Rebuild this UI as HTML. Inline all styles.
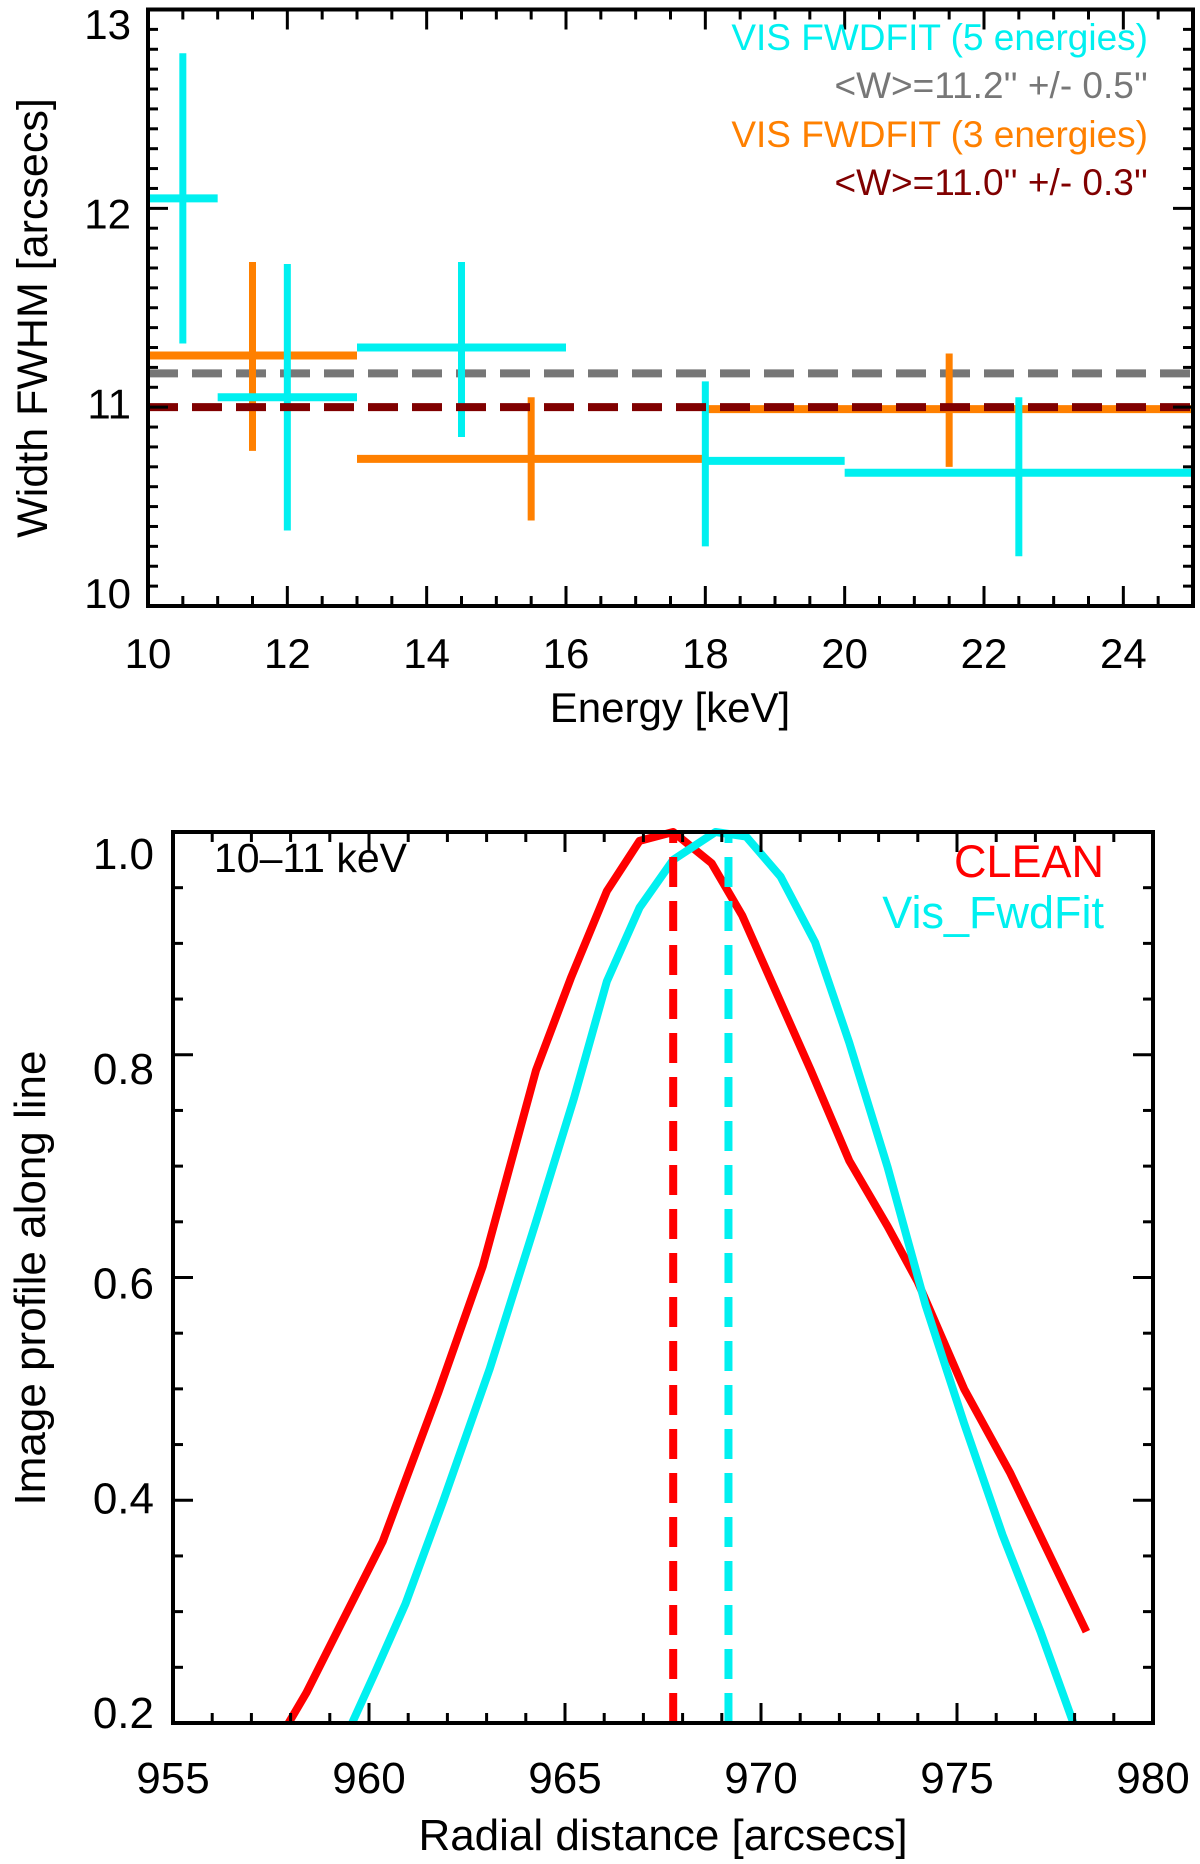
<!DOCTYPE html>
<html><head><meta charset="utf-8"><style>
html,body{margin:0;padding:0;background:#fff;}
svg{display:block;}
text{font-family:"Liberation Sans",sans-serif;}
</style></head><body>
<svg id="fig" width="1200" height="1864" viewBox="0 0 1200 1864" xmlns="http://www.w3.org/2000/svg">
<g id="top"></g>
<g id="bot"></g>
</svg>
<script>
// ---- Top chart data ----
const cyanXlo = [10, 11, 13, 18, 20];
const cyanXhi = [11, 13, 16, 20, 25];
const cyanXbar = [10.5, 12, 14.5, 18, 22.5];
const cyanY = [12.05, 11.05, 11.3, 10.73, 10.67];
const cyanYlo = [11.32, 10.38, 10.85, 10.3, 10.25];
const cyanYhi = [12.78, 11.72, 11.73, 11.13, 11.05];
const orangeXlo = [10, 13, 18];
const orangeXhi = [13, 18, 25];
const orangeXbar = [11.5, 15.5, 21.5];
const orangeY = [11.26, 10.74, 10.99];
const orangeYlo = [10.78, 10.43, 10.7];
const orangeYhi = [11.73, 11.05, 11.27];
const meanGray = 11.17;
const meanRed = 11.0;
const topXTicks = [10, 12, 14, 16, 18, 20, 22, 24];
const topYTicks = [10, 11, 12, 13];
// ---- Bottom chart data ----
const cleanX = [957.95,958.4,959.3,960.35,961.77,962.9,964.26,965.15,966.07,966.9,967.76,968.74,969.52,970.1,971.27,972.25,973.23,974.0,975.18,976.35,978.3];
const cleanY = [0.2,0.227,0.29,0.363,0.497,0.61,0.786,0.869,0.947,0.992,1.0,0.972,0.925,0.879,0.786,0.705,0.646,0.596,0.5,0.425,0.282];
const fwdX = [959.57,960.15,960.93,961.9,963.08,964.25,965.23,966.07,966.9,967.76,968.84,969.62,970.5,971.38,972.25,973.23,974.2,975.18,976.16,977.13,977.97];
const fwdY = [0.2,0.245,0.307,0.4,0.518,0.649,0.761,0.866,0.932,0.975,1.0,0.996,0.96,0.901,0.811,0.699,0.575,0.469,0.369,0.282,0.2];
const cleanPeak = 967.76;
const fwdPeak = 969.17;
const botXTicks = [955, 960, 965, 970, 975, 980];
const botYTicks = [0.2, 0.4, 0.6, 0.8, 1.0];
const botYLabels = ["0.2","0.4","0.6","0.8","1.0"];

const NS = "http://www.w3.org/2000/svg";
function mk(parent, tag, attrs, txt) {
  const e = document.createElementNS(NS, tag);
  for (const k in attrs) e.setAttribute(k, attrs[k]);
  if (txt !== undefined) e.textContent = txt;
  parent.appendChild(e);
  return e;
}
function scale(d0, d1, p0, p1) { return v => p0 + (v - d0) * (p1 - p0) / (d1 - d0); }

function axes(g, L, R, T, B, sx, sy, xr, yr, xMinor, yMinor, xMajor, yMajor) {
  let e;
  for (let v = xr[0]; v <= xr[1] + 1e-9; v += xMinor) {
    const isMaj = xMajor.some(m => Math.abs(m - v) < 1e-6);
    const len = isMaj ? 20 : 10;
    const x = sx(v);
    e = mk(g, "line", {x1:x, y1:B, x2:x, y2:B-len, stroke:"#000", "stroke-width":3});
    
    
    e = mk(g, "line", {x1:x, y1:T, x2:x, y2:T+len, stroke:"#000", "stroke-width":3});
    
    
  }
  for (let v = yr[0]; v <= yr[1] + 1e-9; v += yMinor) {
    const isMaj = yMajor.some(m => Math.abs(m - v) < 1e-6);
    const len = isMaj ? 20 : 10;
    const y = sy(v);
    e = mk(g, "line", {x1:L, y1:y, x2:L+len, y2:y, stroke:"#000", "stroke-width":3});
    
    
    e = mk(g, "line", {x1:R, y1:y, x2:R-len, y2:y, stroke:"#000", "stroke-width":3});
    
    
  }
  e = mk(g, "rect", {x:L, y:T, width:R-L, height:B-T, fill:"none", stroke:"#000", "stroke-width":4});
  
  
}

// ---------- TOP CHART ----------
(function(){
  const g = document.getElementById("top");
  const L=148, R=1193, T=9.5, B=606;
  const sx = scale(10, 25, L, R), sy = scale(10, 13, B, T);
  const sLab = scale(10, 13, 593, 24);
  let e;
  e = mk(g, "line", {x1:L, y1:sy(meanGray), x2:R, y2:sy(meanGray), stroke:"#777", "stroke-width":8, "stroke-dasharray":"30 14"});
  
  
  for (let i=0;i<orangeY.length;i++){
    e = mk(g, "line", {x1:sx(orangeXlo[i]), y1:sy(orangeY[i]), x2:sx(orangeXhi[i]), y2:sy(orangeY[i]), stroke:"#ff8000", "stroke-width":8});
    
    
    e = mk(g, "line", {x1:sx(orangeXbar[i]), y1:sy(orangeYlo[i]), x2:sx(orangeXbar[i]), y2:sy(orangeYhi[i]), stroke:"#ff8000", "stroke-width":7});
    
    
  }
  for (let i=0;i<cyanY.length;i++){
    e = mk(g, "line", {x1:sx(cyanXlo[i]), y1:sy(cyanY[i]), x2:sx(cyanXhi[i]), y2:sy(cyanY[i]), stroke:"#00f0f0", "stroke-width":8});
    
    
    e = mk(g, "line", {x1:sx(cyanXbar[i]), y1:sy(cyanYlo[i]), x2:sx(cyanXbar[i]), y2:sy(cyanYhi[i]), stroke:"#00f0f0", "stroke-width":7});
    
    
  }
  e = mk(g, "line", {x1:L, y1:sy(meanRed), x2:R, y2:sy(meanRed), stroke:"#800000", "stroke-width":8, "stroke-dasharray":"30 14"});
  
  
  axes(g, L, R, T, B, sx, sy, [10,25], [10,13], 0.5, 0.1, topXTicks, topYTicks);
  for (const v of topXTicks){
    e = mk(g, "text", {x:sx(v), y:668, "font-size":42, "text-anchor":"middle"}, String(v));
    
    
  }
  for (const v of topYTicks){
    e = mk(g, "text", {x:131, y:sLab(v)+15, "font-size":42, "text-anchor":"end"}, String(v));
    
    
  }
  e = mk(g, "text", {x:670, y:722, "font-size":42, "text-anchor":"middle"}, "Energy [keV]");
  
  
  e = mk(g, "text", {x:0, y:0, "font-size":43, "text-anchor":"middle", transform:"translate(47,318) rotate(-90)"}, "Width FWHM [arcsecs]");
  
  
  const leg = [["VIS FWDFIT (5 energies)","#00f0f0",50],["<W>=11.2'' +/- 0.5''","#777",98],["VIS FWDFIT (3 energies)","#ff8000",147],["<W>=11.0'' +/- 0.3''","#800000",195]];
  for (const l of leg){
    e = mk(g, "text", {x:1148, y:l[2], "font-size":37, "text-anchor":"end", fill:l[1]}, l[0]);
    
    
  }
})();

// ---------- BOTTOM CHART ----------
(function(){
  const g = document.getElementById("bot");
  const L=173, R=1153, T=832, B=1723;
  const sx = scale(955, 980, L, R), sy = scale(0.2, 1.0, B, T);
  const sLab = scale(0.2, 1.0, 1712, 853);
  let e;
  let d = cleanX.map((x,i)=>(i?"L":"M")+sx(x).toFixed(1)+","+sy(cleanY[i]).toFixed(1)).join("");
  e = mk(g, "path", {d:d, fill:"none", stroke:"#ff0000", "stroke-width":8, "stroke-linejoin":"round"});
  
  
  d = fwdX.map((x,i)=>(i?"L":"M")+sx(x).toFixed(1)+","+sy(fwdY[i]).toFixed(1)).join("");
  e = mk(g, "path", {d:d, fill:"none", stroke:"#00f0f0", "stroke-width":8, "stroke-linejoin":"round"});
  
  
  e = mk(g, "line", {x1:sx(cleanPeak), y1:B, x2:sx(cleanPeak), y2:T, stroke:"#ff0000", "stroke-width":8, "stroke-dasharray":"30 14"});
  
  
  e = mk(g, "line", {x1:sx(fwdPeak), y1:B, x2:sx(fwdPeak), y2:T, stroke:"#00f0f0", "stroke-width":8, "stroke-dasharray":"30 14"});
  
  
  axes(g, L, R, T, B, sx, sy, [955,980], [0.2,1.0], 1, 0.05, botXTicks, botYTicks);
  for (const v of botXTicks){
    e = mk(g, "text", {x:sx(v), y:1793, "font-size":44, "text-anchor":"middle"}, String(v));
    
    
  }
  botYTicks.forEach((v,i)=>{
    e = mk(g, "text", {x:154, y:sLab(v)+16, "font-size":44, "text-anchor":"end"}, botYLabels[i]);
    
    
  });
  e = mk(g, "text", {x:663, y:1850, "font-size":44, "text-anchor":"middle"}, "Radial distance [arcsecs]");
  
  
  e = mk(g, "text", {x:0, y:0, "font-size":44, "text-anchor":"middle", transform:"translate(45,1278) rotate(-90)"}, "Image profile along line");
  
  
  e = mk(g, "text", {x:214, y:872, "font-size":41}, "10\u201311 keV");
  
  
  e = mk(g, "text", {x:1104, y:877, "font-size":45, "text-anchor":"end", fill:"#ff0000"}, "CLEAN");
  
  
  e = mk(g, "text", {x:1104, y:928, "font-size":45, "text-anchor":"end", fill:"#00f0f0"}, "Vis_FwdFit");
  
  
})();
</script>
</body></html>
